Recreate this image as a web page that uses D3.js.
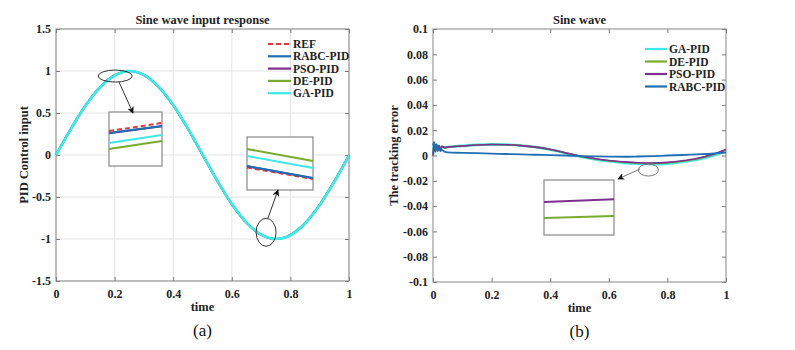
<!DOCTYPE html>
<html><head><meta charset="utf-8">
<script src="https://cdn.jsdelivr.net/npm/d3@7"></script>
<style>
body{margin:0;background:#fff;}
text{font-family:"Liberation Serif","Times New Roman",serif;}
</style></head>
<body><svg id="c" width="795" height="350"></svg>
<script>
// ---------- data ----------
const sineT = [0,0.05,0.1,0.15,0.2,0.25,0.3,0.35,0.4,0.45,0.5,0.55,0.6,0.65,0.7,0.75,0.8,0.85,0.9,0.95,1];
const refVals  = [0,0.309,0.588,0.809,0.951,1,0.951,0.809,0.588,0.309,0,-0.309,-0.588,-0.809,-0.951,-1,-0.951,-0.809,-0.588,-0.309,0];
const rabcVals = [0,0.308,0.587,0.808,0.950,0.999,0.951,0.810,0.589,0.310,0.001,-0.308,-0.587,-0.808,-0.950,-0.999,-0.951,-0.810,-0.589,-0.310,0];
const psoVals  = [0,0.303,0.582,0.804,0.946,0.998,0.954,0.814,0.595,0.317,0.008,-0.301,-0.581,-0.804,-0.947,-0.999,-0.955,-0.815,-0.596,-0.318,-0.005];
const deVals   = [0,0.302,0.581,0.803,0.945,0.998,0.955,0.815,0.596,0.318,0.009,-0.300,-0.580,-0.803,-0.946,-0.999,-0.956,-0.816,-0.597,-0.319,-0.005];
const gaVals   = [0,0.303,0.582,0.804,0.946,0.998,0.954,0.814,0.595,0.317,0.008,-0.301,-0.581,-0.804,-0.947,-0.999,-0.955,-0.815,-0.596,-0.318,-0.004];
const leftYTicks = [1.5,1,0.5,0,-0.5,-1,-1.5];
const xTicks = [0,0.2,0.4,0.6,0.8,1];

// zoomed inset values (a)
const inset1T = [0.20,0.22];
const inset1 = {REF:[0.9724,0.9798], RABC:[0.9706,0.9770], PSO:[0.9704,0.9768], DE:[0.9557,0.9631], GA:[0.9613,0.9687]};
const inset2T = [0.70,0.72];
const inset2 = {REF:[-0.9688,-0.9796], RABC:[-0.9674,-0.9787], PSO:[-0.9676,-0.9789], DE:[-0.9513,-0.9626], GA:[-0.9579,-0.9692]};

// tracking error (b)
const errT   = [0,0.004,0.008,0.012,0.016,0.02,0.025,0.03,0.04,0.05,0.1,0.15,0.2,0.25,0.3,0.35,0.4,0.45,0.5,0.55,0.6,0.65,0.7,0.75,0.8,0.85,0.9,0.95,1];
const errPSO = [0,0.0095,0.003,0.0085,0.004,0.0078,0.0048,0.0072,0.0062,0.0066,0.0075,0.0083,0.0087,0.0085,0.0078,0.0066,0.0048,0.0022,-0.0004,-0.0024,-0.0040,-0.0050,-0.0057,-0.0059,-0.0054,-0.0042,-0.0024,0.0006,0.0048];
const errDE  = [0,0.0093,0.0031,0.0084,0.0041,0.0077,0.0049,0.0071,0.0062,0.0066,0.0075,0.0083,0.0087,0.0085,0.0078,0.0066,0.0048,0.0022,-0.0005,-0.0025,-0.0041,-0.0052,-0.0059,-0.0062,-0.0057,-0.0045,-0.0027,0.0003,0.0044];
const errGA  = [0,0.0092,0.0032,0.0083,0.0042,0.0076,0.0050,0.0070,0.0063,0.0067,0.0076,0.0084,0.0088,0.0086,0.0079,0.0066,0.0047,0.0020,-0.0008,-0.0029,-0.0046,-0.0058,-0.0065,-0.0068,-0.0064,-0.0052,-0.0034,-0.0006,0.0035];
const errRABC= [0.008,0.0105,0.004,0.009,0.0035,0.0065,0.0035,0.0045,0.003,0.0025,0.0021,0.0018,0.0015,0.0012,0.0009,0.0006,0.0003,0,-0.0004,-0.0007,-0.0009,-0.0010,-0.0008,-0.0005,0,0.0004,0.0009,0.0014,0.0022];
const rightYTicks = [0.1,0.08,0.06,0.04,0.02,0,-0.02,-0.04,-0.06,-0.08,-0.1];
const inset3T = [0.74,0.76];
const inset3 = {PSO:[-0.0063,-0.0062], DE:[-0.00688,-0.00681]};

const colors = {REF:"#e03b3b", RABC:"#1f6fb4", PSO:"#7e2f8e", DE:"#77ac30", GA:"#3fe8e8"};

// ---------- drawing ----------
const svg = d3.select("#c");
const F = "Liberation Serif, Times New Roman, serif";
const fmt = d => String(+d.toFixed(4));

function panel(o){
  const g = svg.append("g");
  const x = d3.scaleLinear().domain([0,1]).range([o.x0,o.x1]);
  const y = d3.scaleLinear().domain(o.ydom).range([o.y1,o.y0]);
  if(o.grid){
    g.selectAll(".gx").data(xTicks).enter().append("line")
      .attr("x1",d=>x(d)).attr("x2",d=>x(d)).attr("y1",o.y0).attr("y2",o.y1)
      .attr("stroke","#e4e4e4").attr("stroke-width",1);
    g.selectAll(".gy").data(o.yticks).enter().append("line")
      .attr("y1",d=>y(d)).attr("y2",d=>y(d)).attr("x1",o.x0).attr("x2",o.x1)
      .attr("stroke","#e4e4e4").attr("stroke-width",1);
  }
  const ax = d3.axisBottom(x).tickValues(xTicks).tickSize(-4).tickPadding(8).tickFormat(fmt);
  const ay = d3.axisLeft(y).tickValues(o.yticks).tickSize(-4).tickPadding(5).tickFormat(fmt);
  const axT = d3.axisTop(x).tickValues(xTicks).tickSize(-4).tickFormat("");
  const ayR = d3.axisRight(y).tickValues(o.yticks).tickSize(-4).tickFormat("");
  const style = s=>{ s.select(".domain").remove(); s.selectAll("line").attr("stroke","#777");
    s.selectAll("text").attr("font-family",F).attr("font-weight","bold").attr("font-size","12px").attr("fill","#222"); };
  g.append("g").attr("transform",`translate(0,${o.y1})`).call(ax).call(style);
  g.append("g").attr("transform",`translate(${o.x0},0)`).call(ay).call(style);
  g.append("g").attr("transform",`translate(0,${o.y0})`).call(axT).call(style);
  g.append("g").attr("transform",`translate(${o.x1},0)`).call(ayR).call(style);
  g.append("rect").attr("x",o.x0).attr("y",o.y0).attr("width",o.x1-o.x0).attr("height",o.y1-o.y0)
    .attr("fill","none").attr("stroke","#888").attr("stroke-width",1);
  g.append("text").attr("x",(o.x0+o.x1)/2).attr("y",o.y0-5).attr("text-anchor","middle")
    .attr("font-weight","bold").attr("font-size","12.5px").attr("fill","#222").text(o.title);
  g.append("text").attr("x",(o.x0+o.x1)/2).attr("y",o.y1+30).attr("text-anchor","middle")
    .attr("font-weight","bold").attr("font-size","12.5px").attr("fill","#222").text("time");
  g.append("text").attr("transform",`translate(${o.ylabX},${(o.y0+o.y1)/2}) rotate(-90)`).attr("text-anchor","middle")
    .attr("font-weight","bold").attr("font-size","12.5px").attr("fill","#222").text(o.ylab);
  g.append("text").attr("x",(o.x0+o.x1)/2).attr("y",o.y1+55).attr("text-anchor","middle")
    .attr("font-size","17px").attr("fill","#111").text(o.sub);
  return {g,x,y};
}

// ---- panel (a)
const A = panel({x0:56,x1:349,y0:29,y1:281,ydom:[-1.5,1.5],yticks:leftYTicks,grid:true,
  title:"Sine wave input response",ylab:"PID Control input",ylabX:28,sub:"(a)"});
const lineA = d3.line().x((d,i)=>A.x(sineT[i])).y(d=>A.y(d)).curve(d3.curveCatmullRom);
const seriesA = [["REF",refVals,1.6,"5,3"],["RABC",rabcVals,2,null],["PSO",psoVals,1.8,null],["DE",deVals,1.8,null],["GA",gaVals,2.6,null]];
seriesA.forEach(([k,v,w,da])=>{
  A.g.append("path").attr("d",lineA(v)).attr("fill","none").attr("stroke",colors[k]).attr("stroke-width",w)
   .attr("stroke-dasharray",da);
});
const legA = [["REF","5,3",2],["RABC",null,2.2],["PSO",null,2.2],["DE",null,2.2],["GA",null,2.2]];
legA.forEach(([k,da,w],i)=>{
  const yy = 44 + i*12.3;
  A.g.append("line").attr("x1",268).attr("x2",291).attr("y1",yy).attr("y2",yy).attr("stroke",colors[k])
    .attr("stroke-width",w).attr("stroke-dasharray",da);
  A.g.append("text").attr("x",293).attr("y",yy+4).attr("font-weight","bold").attr("font-size","11.5px")
    .attr("fill","#222").text(k==="REF"?"REF":k+"-PID");
});

function inset(P, box, tdom, ydom, data, order){
  const ix = d3.scaleLinear().domain(tdom).range([box[0],box[1]]);
  const iy = d3.scaleLinear().domain(ydom).range([box[3],box[2]]);
  P.g.append("rect").attr("x",box[0]).attr("y",box[2]).attr("width",box[1]-box[0]).attr("height",box[3]-box[2])
    .attr("fill","#fff").attr("stroke","#888").attr("stroke-width",1.2);
  order.forEach(k=>{
    if(!data[k]) return;
    P.g.append("line").attr("x1",ix(tdom[0])).attr("x2",ix(tdom[1]))
      .attr("y1",iy(data[k][0])).attr("y2",iy(data[k][1]))
      .attr("stroke",colors[k]).attr("stroke-width",2)
      .attr("stroke-dasharray",k==="REF"?"5,3":null);
  });
}
inset(A,[109,162,112,166],inset1T,[0.94,0.99],inset1,["DE","GA","PSO","RABC","REF"]);
inset(A,[247,313,137,190],inset2T,[-0.99,-0.94],inset2,["DE","GA","REF","PSO","RABC"]);

svg.append("defs").append("marker").attr("id","ah").attr("viewBox","0 0 10 10").attr("refX",9).attr("refY",5)
  .attr("markerWidth",7).attr("markerHeight",7).attr("orient","auto")
  .append("path").attr("d","M0,0 L10,5 L0,10 L3,5 z").attr("fill","#111");
function callout(g, cx, cy, rx, ry, ax1, ay1, ax2, ay2, col){
  g.append("ellipse").attr("cx",cx).attr("cy",cy).attr("rx",rx).attr("ry",ry)
    .attr("fill","none").attr("stroke",col).attr("stroke-width",1);
  g.append("line").attr("x1",ax1).attr("y1",ay1).attr("x2",ax2).attr("y2",ay2)
    .attr("stroke",col).attr("stroke-width",1).attr("marker-end","url(#ah)");
}
callout(A.g, A.x(0.202), A.y(0.94), 17, 6, 119, 82, 133, 113, "#333");
callout(A.g, A.x(0.717), A.y(-0.92), 10, 14, 268, 218, 278, 190, "#333");

// ---- panel (b)
const B = panel({x0:433,x1:726,y0:29,y1:282,ydom:[-0.1,0.1],yticks:rightYTicks,grid:false,
  title:"Sine wave",ylab:"The tracking error",ylabX:398,sub:"(b)"});
const lineB = d3.line().x((d,i)=>B.x(errT[i])).y(d=>B.y(d)).curve(d3.curveMonotoneX);
[["GA",errGA,2.6],["DE",errDE,1.6],["PSO",errPSO,1.6],["RABC",errRABC,1.8]].forEach(([k,v,w])=>{
  B.g.append("path").attr("d",lineB(v)).attr("fill","none").attr("stroke",colors[k]).attr("stroke-width",w);
});
["GA","DE","PSO","RABC"].forEach((k,i)=>{
  const yy = 49 + i*12.5;
  B.g.append("line").attr("x1",645).attr("x2",667).attr("y1",yy).attr("y2",yy).attr("stroke",colors[k]).attr("stroke-width",2.2);
  B.g.append("text").attr("x",669).attr("y",yy+4).attr("font-weight","bold").attr("font-size","11.5px")
    .attr("fill","#222").text(k+"-PID");
});
inset(B,[544,614,180,235],inset3T,[-0.0075,-0.0055],inset3,["DE","PSO"]);
callout(B.g, B.x(0.735), B.y(-0.0115), 10, 6, 640, 169, 618, 179, "#777");
</script></body></html>
